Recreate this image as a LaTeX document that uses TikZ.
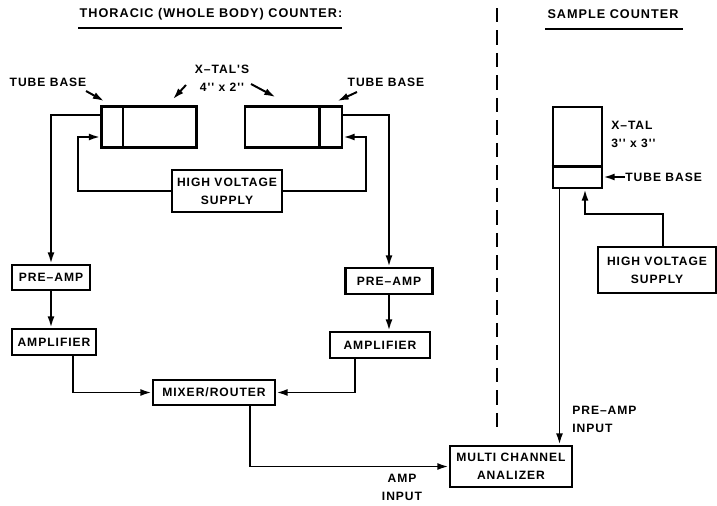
\documentclass[tikz,border=0pt]{standalone}
\usepackage{fontspec}
\newfontfamily\lblfont{Liberation Sans}[LetterSpace=8]
\usetikzlibrary{arrows.meta}

\newcommand{\lbl}{\lblfont\bfseries\fontsize{8.6}{12.8}\selectfont}
\newcommand{\ttl}{\lblfont\bfseries\fontsize{9}{11}\selectfont}

\begin{document}
\begin{tikzpicture}[x=0.025cm, y=-0.025cm,
    box/.style={draw, line width=2pt, font=\lbl, align=center, inner sep=0pt},
    conn/.style={line width=1.4pt, -{Latex[length=8pt,width=5pt]}},
    lbl/.style={font=\lbl, align=center, inner sep=0pt}]

    \useasboundingbox (0,0) rectangle (717,506);

    %----- TITLES -----
    \node[font=\ttl] (ttlbody) at (211,14) {THORACIC (WHOLE BODY) COUNTER:};
    \node[font=\ttl] (ttlsample) at (613,14) {SAMPLE COUNTER};
    \draw[line width=1.4pt] (78,28) -- (342,28);
    \draw[line width=1.4pt] (545,29) -- (683,29);

    %----- DIVIDER -----
    \draw[line width=1.5pt, dash pattern=on 10pt off 6pt] (497,8) -- (497,432);

    %----- WHOLE BODY COUNTER -----
    \node[box, minimum width=2.375cm, minimum height=1.025cm] (ltube) at (149,127) {};
    \node[box, minimum width=2.425cm, minimum height=1.025cm] (rtube) at (293.5,127) {};
    \draw[line width=2pt] ([xshift=0.575cm]ltube.north west) -- ([xshift=0.575cm]ltube.south west);
    \draw[line width=2pt] ([xshift=-0.6cm]rtube.north east) -- ([xshift=-0.6cm]rtube.south east);

    \node[box, minimum width=2.75cm, minimum height=1.05cm] (hv) at (227,191) {HIGH VOLTAGE\\SUPPLY};
    \node[box, minimum width=1.95cm, minimum height=0.625cm] (lpre) at (51,277.5) {PRE\textendash AMP};
    \node[box, minimum width=2.1cm, minimum height=0.65cm] (lamp) at (54,342) {AMPLIFIER};
    \node[box, minimum width=2.175cm, minimum height=0.65cm] (rpre) at (389,281) {PRE\textendash AMP};
    \node[box, minimum width=2.5cm, minimum height=0.65cm] (ramp) at (380,345) {AMPLIFIER};
    \node[box, minimum width=3.05cm, minimum height=0.625cm] (mixer) at (214,392.5) {MIXER/ROUTER};

    \node[lbl] (ltb) at (48,82) {TUBE BASE};
    \node[lbl] (rtb) at (386,82) {TUBE BASE};
    \node[lbl] (xtals) at (222,78) {X\textendash TAL'S\\4'' x 2''};

    \coordinate (lhv) at (78,137);
    \coordinate (rhv) at (366,137);
    \coordinate (xl) at (186,85);
    \coordinate (xr) at (251,84);
    \coordinate (ltbend) at (86,91);
    \coordinate (rtbend) at (357,92);

    \draw[conn] (ltbend) -- ([xshift=0.1cm,yshift=0.1cm]ltube.north west);
    \draw[conn] (rtbend) -- ([xshift=-0.15cm,yshift=0.1cm]rtube.north east);
    \draw[conn] (xl) -- ([xshift=0.6cm,yshift=0.15cm]ltube.north);
    \draw[conn] (xr) -- ([xshift=-0.45cm,yshift=0.2cm]rtube.north);

    \draw[conn] ([yshift=0.3cm]ltube.west) -| (lpre.north);
    \draw[conn] ([yshift=0.3cm]rtube.east) -| (rpre.north);
    \draw[conn] (hv.west) -| (lhv) -- (lhv -| ltube.west);
    \draw[conn] (hv.east) -| (rhv) -- (rhv -| rtube.east);
    \draw[conn] (lpre.south) -- (lpre.south |- lamp.north);
    \draw[conn] (rpre.south) -- (rpre.south |- ramp.north);
    \draw[conn] ([xshift=0.475cm]lamp.south) |- (mixer.west);
    \draw[conn] ([xshift=-0.625cm]ramp.south) |- (mixer.east);

    %----- SAMPLE COUNTER -----
    \node[box, minimum width=1.225cm, minimum height=2.025cm] (stube) at (577.5,147.5) {};
    \draw[line width=2pt] ([yshift=0.575cm]stube.south west) -- ([yshift=0.575cm]stube.south east);
    \node[lbl, align=left, anchor=west] (sxtal) at (611,134) {X\textendash TAL\\3'' x 3''};
    \node[lbl, anchor=west] (stb) at (625,177) {TUBE BASE};
    \draw[conn] (stb.west) -- (stb.west -| stube.east);

    \node[box, minimum width=2.95cm, minimum height=1.15cm] (shv) at (657,270) {HIGH VOLTAGE\\SUPPLY};
    \coordinate (sbend) at (585,214);
    \draw[conn] ([xshift=0.15cm]shv.north) |- (sbend) -- (sbend |- stube.south);

    %----- ANALIZER -----
    \node[box, minimum width=3.05cm, minimum height=1.025cm] (mca) at (511,466.5) {MULTI CHANNEL\\ANALIZER};
    \node[lbl] (ampin) at (402,487) {AMP\\INPUT};
    \node[lbl, align=left, anchor=west] (prein) at (572,419) {PRE\textendash AMP\\INPUT};

    \draw[conn] ([xshift=0.9cm]mixer.south) |- (mca.west);
    \draw[conn] ([xshift=-0.45cm]stube.south) coordinate (sout) -- (sout |- mca.north);

\end{tikzpicture}
\end{document}
